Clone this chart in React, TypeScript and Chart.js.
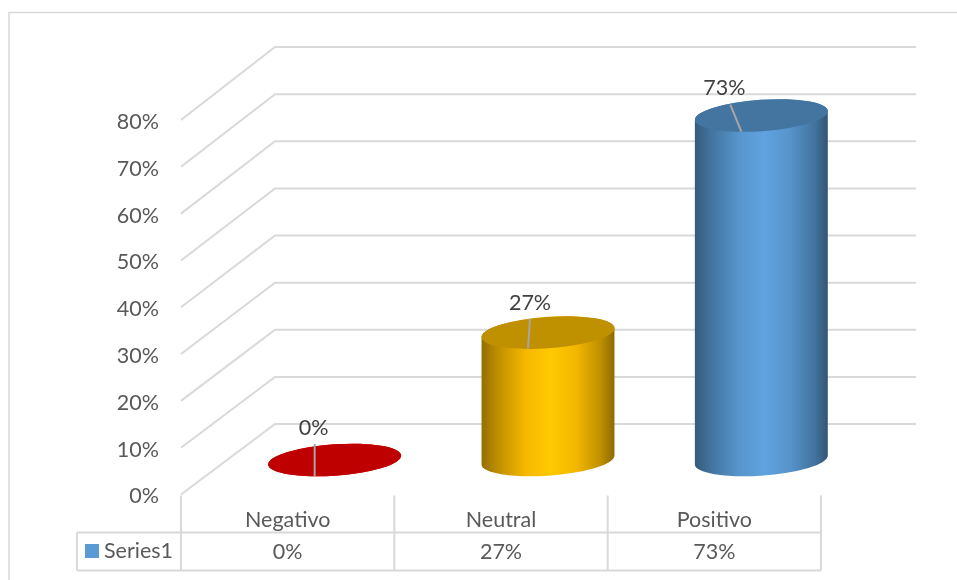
import React, { useEffect, useRef } from "react";
import { Chart, BarElement, registerables } from "chart.js";

// Chart content
const categories = ["Negativo", "Neutral", "Positivo"];
const seriesName = "Series1";
const seriesValues = [0, 27, 73];
const seriesColors = ["#FF0000", "#FFC000", "#5B9BD5"];
const axisMax = 80;
const axisStep = 10;

const FONT = "Lato, Carlito, sans-serif";
const FONT_SIZE = 21.5;
const TEXT_COLOR = "#595959";
const LABEL_COLOR = "#404040";
const LINE_COLOR = "#D9D9D9";
const LEADER_COLOR = "#A6A6A6";

// Oblique projection of the plot floor: depth runs up and to the right.
const DEPTH_X = 94;
const MID_DEPTH_Y = 69;
const MID_DEPTH_GROWTH = 6;
const WALL_DEPTH_Y = 70.5;
const WALL_DEPTH_GROWTH = 2.5;
const PLOT_HEIGHT = 374.5;
const WALL_OVERHANG = 95;

// Cylinder shape
const CAP_RADIUS_Y = 15.7;
const CAP_TILT = (-4 * Math.PI) / 180;

// Hand placement of each value label relative to the centre of its cap
const labelNudgeX = [-21, -18, -37];
const labelNudgeY = [-32, -30, -27];
const leaderNudgeX = [1, 0, 6];

const shade = (hex: string, f: number) => {
  const n = parseInt(hex.slice(1), 16);
  const c = [n >> 16, (n >> 8) & 255, n & 255].map((v) => Math.min(255, Math.round(v * f)));
  return `rgb(${c[0]},${c[1]},${c[2]})`;
};

// Vertical offset of the mid-depth plane for a given distance above the floor
const midShift = (rise: number) => (MID_DEPTH_Y + (MID_DEPTH_GROWTH * rise) / PLOT_HEIGHT) / 2;
const wallShift = (rise: number) => WALL_DEPTH_Y + (WALL_DEPTH_GROWTH * rise) / PLOT_HEIGHT;

const capCentre = (bar: any) => {
  const { x, y, base } = bar.getProps(["x", "y", "base"], true);
  return { x: x + DEPTH_X / 2, y: y - midShift(base - y), baseY: base - midShift(0) };
};

class CylinderElement extends BarElement {
  static id = "cylinder";

  draw(ctx: CanvasRenderingContext2D) {
    const { width } = (this as any).getProps(["width"]);
    const color = (this as any).options.backgroundColor as string;
    const { x: cx, y: topY, baseY } = capCentre(this);
    const b = CAP_RADIUS_Y;
    const sin = Math.sin(CAP_TILT);
    const cos = Math.cos(CAP_TILT);
    const half = width / 2;
    const a = Math.sqrt((half * half - b * b * sin * sin) / (cos * cos));
    const t0 = Math.atan((-b / a) * Math.tan(CAP_TILT));

    const gradient = ctx.createLinearGradient(cx - half, 0, cx + half, 0);
    gradient.addColorStop(0, shade(color, 0.58));
    gradient.addColorStop(0.12, shade(color, 0.74));
    gradient.addColorStop(0.33, shade(color, 0.96));
    gradient.addColorStop(0.52, shade(color, 1.05));
    gradient.addColorStop(0.72, shade(color, 0.95));
    gradient.addColorStop(0.9, shade(color, 0.74));
    gradient.addColorStop(1, shade(color, 0.55));

    ctx.save();
    ctx.beginPath();
    ctx.ellipse(cx, baseY, a, b, CAP_TILT, t0, t0 + Math.PI, false);
    ctx.ellipse(cx, topY, a, b, CAP_TILT, t0 + Math.PI, t0 + 2 * Math.PI, false);
    ctx.closePath();
    ctx.fillStyle = gradient;
    ctx.fill();

    ctx.beginPath();
    ctx.ellipse(cx, topY, a, b, CAP_TILT, 0, 2 * Math.PI);
    ctx.fillStyle = shade(color, 0.75);
    ctx.fill();
    ctx.restore();
  }
}

const stroke = (ctx: CanvasRenderingContext2D, pts: number[][], color: string, width: number) => {
  ctx.beginPath();
  pts.forEach(([x, y], i) => (i ? ctx.lineTo(x, y) : ctx.moveTo(x, y)));
  ctx.strokeStyle = color;
  ctx.lineWidth = width;
  ctx.stroke();
};

const text = (
  ctx: CanvasRenderingContext2D,
  s: string,
  x: number,
  y: number,
  color: string,
  align: CanvasTextAlign = "center",
) => {
  ctx.font = `${FONT_SIZE}px ${FONT}`;
  ctx.fillStyle = color;
  ctx.textAlign = align;
  ctx.textBaseline = "middle";
  ctx.fillText(s, x, y);
};

// Outer frame, walls with their gridlines, and the data table under the axis
const sceneryPlugin = {
  id: "scenery",
  beforeDraw(chart: any) {
    const { ctx, width, height } = chart;
    ctx.save();
    ctx.fillStyle = "#FFFFFF";
    ctx.fillRect(0, 0, width, height);
    stroke(ctx, [[9, height], [9, 12.5], [width, 12.5]], LINE_COLOR, 1.5);
    ctx.restore();
  },
  beforeDatasetsDraw(chart: any) {
    const { ctx, chartArea, scales } = chart;
    const wallRight = chartArea.right + WALL_OVERHANG;
    ctx.save();
    scales.y.ticks.forEach((tick: any) => {
      const y = scales.y.getPixelForValue(tick.value);
      const backY = y - wallShift(chartArea.bottom - y);
      stroke(
        ctx,
        [
          [chartArea.left, y],
          [chartArea.left + DEPTH_X, backY],
          [wallRight, backY],
        ],
        LINE_COLOR,
        2,
      );
    });

    // Data table
    const top = 532.5;
    const bottom = 570.5;
    const tableLeft = 77;
    const centres = categories.map((_, i) => scales.x.getPixelForValue(i));
    const band = (chartArea.right - chartArea.left) / categories.length;
    for (let i = 0; i <= categories.length; i++) {
      const x = chartArea.left + i * band;
      stroke(ctx, [[x, chartArea.bottom + 1], [x, bottom]], LINE_COLOR, 2);
    }
    stroke(ctx, [[tableLeft, top], [chartArea.right, top]], LINE_COLOR, 2);
    stroke(ctx, [[tableLeft, bottom], [chartArea.right, bottom]], LINE_COLOR, 2);
    stroke(ctx, [[tableLeft, top], [tableLeft, bottom]], LINE_COLOR, 2);
    ctx.fillStyle = seriesColors[2];
    ctx.fillRect(85, 544, 14, 14);
    text(ctx, seriesName, 104, 551, TEXT_COLOR, "left");
    seriesValues.forEach((v, i) => text(ctx, `${v}%`, centres[i], 552, TEXT_COLOR));
    ctx.restore();
  },
  afterDatasetsDraw(chart: any) {
    const { ctx } = chart;
    ctx.save();
    chart.getDatasetMeta(0).data.forEach((bar: any, i: number) => {
      const c = capCentre(bar);
      const lx = c.x + labelNudgeX[i];
      const ly = c.y + labelNudgeY[i];
      stroke(
        ctx,
        [
          [lx + leaderNudgeX[i], ly + 16],
          [c.x - 20, c.y + 16],
        ],
        LEADER_COLOR,
        2,
      );
      text(ctx, `${seriesValues[i]}%`, lx, ly, LABEL_COLOR);
    });
    ctx.restore();
  },
};

Chart.register(...registerables, CylinderElement);
(Chart.defaults.datasets as any).bar.dataElementType = "cylinder";

export default function App() {
  const canvasRef = useRef<HTMLCanvasElement | null>(null);

  useEffect(() => {
    const chart = new Chart(canvasRef.current!, {
      type: "bar",
      data: {
        labels: categories,
        datasets: [
          {
            label: seriesName,
            data: seriesValues,
            backgroundColor: seriesColors,
            barPercentage: 0.623,
            categoryPercentage: 1,
            clip: false,
          } as any,
        ],
      },
      plugins: [sceneryPlugin],
      options: {
        responsive: false,
        animation: false,
        events: [],
        layout: { padding: { left: 81, top: 120, right: 136, bottom: 0 } },
        plugins: { legend: { display: false }, tooltip: { enabled: false } },
        scales: {
          x: {
            grid: { display: false },
            border: { display: false },
            afterFit: (scale: any) => {
              scale.height = 85.5;
            },
            ticks: {
              padding: 5,
              maxRotation: 0,
              color: TEXT_COLOR,
              font: { family: FONT, size: FONT_SIZE },
            },
          },
          y: {
            min: 0,
            max: axisMax,
            grid: { display: false },
            border: { display: false },
            afterFit: (scale: any) => {
              scale.width = 100;
            },
            ticks: {
              stepSize: axisStep,
              padding: 14,
              labelOffset: 2,
              color: TEXT_COLOR,
              font: { family: FONT, size: FONT_SIZE },
              callback: (v: any) => `${v}%`,
            },
          },
        },
      } as any,
    });
    return () => chart.destroy();
  }, []);

  return (
    <canvas
      ref={canvasRef}
      width={957}
      height={580}
      style={{ position: "fixed", left: 0, top: 0, width: 957, height: 580, display: "block" }}
    />
  );
}
